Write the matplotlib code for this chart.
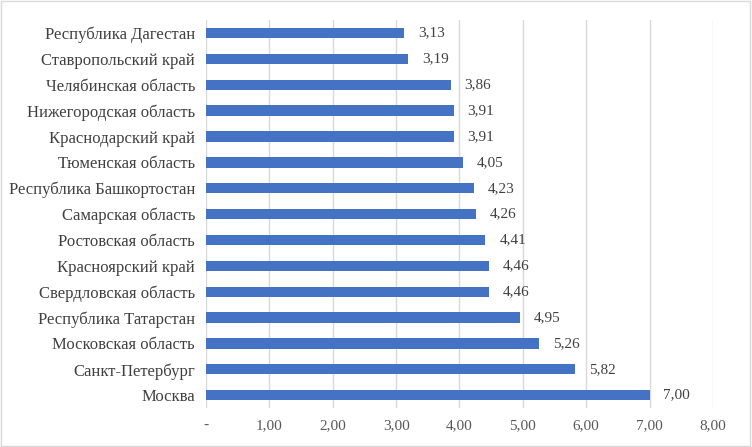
import matplotlib
matplotlib.use("Agg")
import matplotlib.pyplot as plt
from matplotlib.patches import Rectangle

regions = [
    "Республика Дагестан", "Ставропольский край", "Челябинская область",
    "Нижегородская область", "Краснодарский край", "Тюменская область",
    "Республика Башкортостан", "Самарская область", "Ростовская область",
    "Красноярский край", "Свердловская область", "Республика Татарстан",
    "Московская область", "Санкт-Петербург", "Москва",
]
values = [3.13, 3.19, 3.86, 3.91, 3.91, 4.05, 4.23, 4.26, 4.41, 4.46,
          4.46, 4.95, 5.26, 5.82, 7.00]
xticks = [0, 1, 2, 3, 4, 5, 6, 7, 8]
xtick_labels = ["-", "1,00", "2,00", "3,00", "4,00", "5,00", "6,00", "7,00", "8,00"]

plt.rcParams["font.family"] = ["Liberation Serif", "DejaVu Serif"]

fig = plt.figure(figsize=(7.52, 4.47), dpi=100)
ax = fig.add_axes([0.274, 0.087, 0.674, 0.868])

pos = list(range(len(regions)))
ax.barh(pos, values, height=0.4, color="#4472C4")
for y, v in zip(pos, values):
    ax.annotate(f"{v:.2f}".replace(".", ","), (v, y), xytext=(10, 0),
                textcoords="offset points", va="center", ha="left",
                fontsize=11, color="#404040")

ax.set_xlim(0, 8)
ax.set_ylim(len(regions) - 0.5, -0.5)
ax.set_yticks(pos)
ax.set_yticklabels(regions, fontsize=12, color="#404040")
ax.set_xticks(xticks)
ax.set_xticklabels(xtick_labels, fontsize=11, color="#595959")
ax.tick_params(length=0)
ax.tick_params(axis="y", pad=8)
ax.tick_params(axis="x", pad=8)
ax.grid(axis="x", color="#D9D9D9", linewidth=1)
ax.set_axisbelow(True)
for s in ax.spines.values():
    s.set_visible(False)

fig.patches.append(Rectangle((0.001, 0.002), 0.997, 0.995, transform=fig.transFigure,
                             fill=False, edgecolor="#D9D9D9", linewidth=1))

fig.savefig("out.png", dpi=100)
